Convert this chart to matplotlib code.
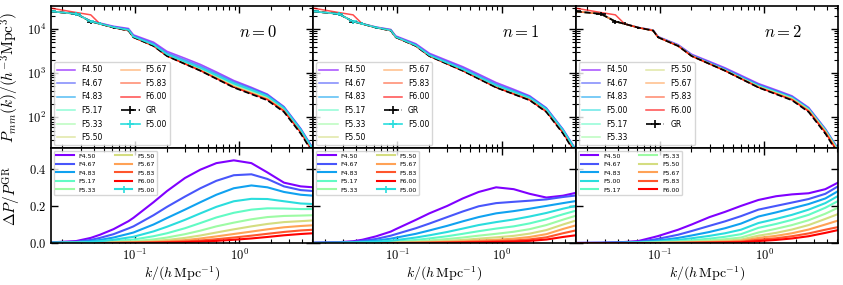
import matplotlib
matplotlib.use("Agg")
import matplotlib.pyplot as plt
import numpy as np

plt.rcParams['font.family'] = 'serif'
plt.rcParams['font.serif'] = ['cmr10']
plt.rcParams['mathtext.fontset'] = 'cm'
plt.rcParams['axes.formatter.use_mathtext'] = True
plt.rcParams['axes.unicode_minus'] = True
plt.rcParams['axes.linewidth'] = 1.2

# ---- data ----
models = ['F4.50', 'F4.67', 'F4.83', 'F5.00', 'F5.17',
          'F5.33', 'F5.50', 'F5.67', 'F5.83', 'F6.00']
panel_n = [0, 1, 2]

k = [0.0156, 0.0272, 0.0375, 0.046, 0.062, 0.0863, 0.0963, 0.15, 0.202,
     0.3, 0.422, 0.6, 0.882, 1.3, 1.85, 2.67, 3.86, 5.1]

pk_gr = [24800, 21900, 14700, 13000, 10700, 9160, 6460, 4110, 2430,
         1610, 1130, 745, 472, 334, 243, 132, 43, 15]
pk_gr_err = [3000, 2500, 1500, 1000, 600, 400, 300, 100, 40,
             20, 10, 5, 3, 2, 1, 0.6, 0.3, 0.2]
k_err = [0.002, 0.003, 0.003, 0, 0, 0, 0, 0, 0, 0, 0, 0, 0, 0, 0, 0, 0, 0]

# F6.00 run deviates from GR on the first three bins
pk_f600_lowk = [29500, 23500, 20800]

ratio_n0 = [
    [0.004, 0.011, 0.028, 0.045, 0.075, 0.118, 0.136, 0.22, 0.28, 0.35, 0.395, 0.43, 0.445, 0.43, 0.38, 0.325, 0.305, 0.30],
    [0.003, 0.007, 0.017, 0.028, 0.048, 0.079, 0.09, 0.15, 0.195, 0.25, 0.295, 0.335, 0.365, 0.37, 0.345, 0.305, 0.285, 0.28],
    [0.002, 0.005, 0.01, 0.017, 0.03, 0.05, 0.057, 0.10, 0.135, 0.18, 0.22, 0.26, 0.295, 0.31, 0.3, 0.275, 0.26, 0.255],
    [0.0015, 0.003, 0.006, 0.01, 0.018, 0.03, 0.034, 0.063, 0.088, 0.125, 0.16, 0.195, 0.225, 0.238, 0.237, 0.225, 0.213, 0.21],
    [0.001, 0.002, 0.0035, 0.0055, 0.01, 0.017, 0.019, 0.037, 0.053, 0.08, 0.108, 0.138, 0.163, 0.18, 0.187, 0.186, 0.183, 0.183],
    [0.0008, 0.0015, 0.002, 0.003, 0.005, 0.009, 0.01, 0.02, 0.03, 0.048, 0.067, 0.09, 0.11, 0.128, 0.14, 0.146, 0.148, 0.15],
    [0.0005, 0.001, 0.0013, 0.0018, 0.003, 0.005, 0.0055, 0.011, 0.017, 0.028, 0.041, 0.057, 0.074, 0.09, 0.103, 0.113, 0.118, 0.122],
    [0.0003, 0.0006, 0.0008, 0.001, 0.0018, 0.003, 0.0033, 0.006, 0.0095, 0.016, 0.025, 0.036, 0.049, 0.062, 0.074, 0.085, 0.092, 0.096],
    [0.0002, 0.0004, 0.0005, 0.0007, 0.001, 0.0017, 0.002, 0.0035, 0.0055, 0.009, 0.014, 0.021, 0.03, 0.04, 0.05, 0.06, 0.068, 0.072],
    [0.0001, 0.0002, 0.0003, 0.0004, 0.0006, 0.001, 0.0011, 0.002, 0.003, 0.005, 0.008, 0.012, 0.018, 0.025, 0.033, 0.042, 0.049, 0.053],
]

ratio_n1 = [
    [0.002, 0.005, 0.01, 0.018, 0.036, 0.062, 0.075, 0.125, 0.16, 0.2, 0.24, 0.275, 0.3, 0.29, 0.265, 0.245, 0.255, 0.27],
    [0.0015, 0.0035, 0.007, 0.012, 0.022, 0.04, 0.048, 0.08, 0.105, 0.14, 0.17, 0.198, 0.215, 0.222, 0.228, 0.235, 0.248, 0.256],
    [0.001, 0.002, 0.004, 0.007, 0.013, 0.024, 0.029, 0.05, 0.068, 0.093, 0.117, 0.14, 0.16, 0.172, 0.185, 0.2, 0.215, 0.226],
    [0.0008, 0.0015, 0.0025, 0.004, 0.007, 0.013, 0.016, 0.03, 0.042, 0.06, 0.078, 0.097, 0.113, 0.127, 0.143, 0.162, 0.185, 0.2],
    [0.0005, 0.001, 0.0015, 0.002, 0.004, 0.007, 0.008, 0.017, 0.025, 0.037, 0.05, 0.064, 0.078, 0.09, 0.106, 0.128, 0.155, 0.174],
    [0.0003, 0.0006, 0.0008, 0.001, 0.002, 0.0035, 0.004, 0.009, 0.014, 0.022, 0.03, 0.04, 0.05, 0.061, 0.075, 0.097, 0.126, 0.147],
    [0.0002, 0.0004, 0.0005, 0.0006, 0.001, 0.0018, 0.002, 0.0045, 0.007, 0.012, 0.017, 0.024, 0.031, 0.039, 0.051, 0.07, 0.1, 0.121],
    [0.0001, 0.0002, 0.0003, 0.0004, 0.0006, 0.001, 0.0011, 0.0023, 0.0037, 0.0065, 0.0095, 0.014, 0.018, 0.024, 0.033, 0.048, 0.076, 0.095],
    [0.0001, 0.0001, 0.0002, 0.0002, 0.0003, 0.0005, 0.0006, 0.0012, 0.002, 0.0035, 0.0055, 0.008, 0.011, 0.014, 0.02, 0.031, 0.053, 0.068],
    [0.0, 0.0001, 0.0001, 0.0001, 0.0002, 0.0003, 0.0004, 0.0007, 0.0011, 0.002, 0.003, 0.0045, 0.006, 0.008, 0.012, 0.019, 0.033, 0.042],
]

ratio_n2 = [
    [0.001, 0.002, 0.004, 0.006, 0.011, 0.031, 0.038, 0.072, 0.1, 0.14, 0.168, 0.2, 0.232, 0.252, 0.262, 0.268, 0.29, 0.325],
    [0.0007, 0.0014, 0.0027, 0.004, 0.007, 0.018, 0.023, 0.045, 0.065, 0.093, 0.117, 0.145, 0.18, 0.2, 0.218, 0.237, 0.265, 0.305],
    [0.0005, 0.001, 0.0017, 0.0025, 0.0045, 0.011, 0.014, 0.028, 0.041, 0.06, 0.08, 0.105, 0.143, 0.165, 0.187, 0.21, 0.24, 0.279],
    [0.0003, 0.0006, 0.001, 0.0015, 0.0027, 0.0065, 0.0085, 0.017, 0.026, 0.039, 0.053, 0.072, 0.108, 0.13, 0.152, 0.18, 0.215, 0.253],
    [0.0002, 0.0004, 0.0006, 0.0009, 0.0016, 0.0037, 0.0048, 0.01, 0.015, 0.024, 0.034, 0.048, 0.082, 0.103, 0.125, 0.152, 0.19, 0.226],
    [0.0001, 0.0002, 0.0004, 0.0005, 0.0009, 0.0022, 0.0028, 0.006, 0.009, 0.015, 0.021, 0.03, 0.057, 0.077, 0.097, 0.123, 0.158, 0.19],
    [0.0001, 0.0002, 0.0002, 0.0003, 0.0005, 0.0012, 0.0016, 0.0035, 0.0055, 0.009, 0.013, 0.019, 0.04, 0.055, 0.073, 0.097, 0.13, 0.156],
    [0.0, 0.0001, 0.0001, 0.0002, 0.0003, 0.0007, 0.0009, 0.002, 0.0033, 0.0055, 0.008, 0.012, 0.028, 0.039, 0.053, 0.073, 0.1, 0.121],
    [0.0, 0.0, 0.0001, 0.0001, 0.0002, 0.0004, 0.0005, 0.0012, 0.002, 0.0033, 0.005, 0.0075, 0.018, 0.026, 0.037, 0.052, 0.072, 0.086],
    [0.0, 0.0, 0.0, 0.0001, 0.0001, 0.0002, 0.0003, 0.0007, 0.0011, 0.002, 0.003, 0.0045, 0.011, 0.017, 0.025, 0.037, 0.055, 0.07],
]
ratio_err = [0.003, 0.002, 0.002, 0.001, 0.001, 0, 0, 0, 0, 0, 0, 0, 0, 0, 0, 0, 0, 0]

ratios = [ratio_n0, ratio_n1, ratio_n2]

# ---- plot ----
k = np.array(k)
pk_gr = np.array(pk_gr)
colors = plt.cm.rainbow(np.linspace(0, 1, len(models)))

fig, axes = plt.subplots(2, 3, figsize=(8.43, 2.85), dpi=100, sharex=True, sharey='row',
                         gridspec_kw=dict(height_ratios=[1.5, 1], hspace=0, wspace=0))
fig.subplots_adjust(left=0.0605, right=0.994, top=0.979, bottom=0.147)

for j, n in enumerate(panel_n):
    ax_top = axes[0, j]
    ax_bot = axes[1, j]
    special = (n != 2)  # F5.00 drawn as the reference run with error bars
    for i, m in enumerate(models):
        r = np.array(ratios[j][i])
        pk = pk_gr * (1 + r)
        if m == 'F6.00':
            pk[:3] = pk_f600_lowk
        if special and m == 'F5.00':
            continue
        ax_top.plot(k, pk, color=colors[i], lw=1.1, alpha=0.7, label=m)
        ax_bot.plot(k, r, color=colors[i], lw=1.5, label=m)
    ax_top.errorbar(k, pk_gr, yerr=pk_gr_err, xerr=k_err, color='k', ls='--',
                    lw=1.2, elinewidth=1.2, label='GR')
    if special:
        i5 = models.index('F5.00')
        r5 = np.array(ratios[j][i5])
        ax_top.errorbar(k, pk_gr * (1 + r5), yerr=pk_gr_err, xerr=k_err,
                        color=colors[i5], lw=1.2, elinewidth=1.2, label='F5.00')
        ax_bot.errorbar(k, r5, yerr=ratio_err, xerr=k_err, color=colors[i5],
                        lw=1.5, elinewidth=1.2, label='F5.00')

    ax_top.legend(loc='lower left', ncol=2, prop={'family': 'DejaVu Sans', 'size': 5.5},
                  handlelength=2.4, columnspacing=2.4, labelspacing=0.6,
                  borderaxespad=0.4)
    ax_bot.legend(loc='upper left', ncol=2, prop={'family': 'DejaVu Sans', 'size': 4.5},
                  handlelength=2.8, columnspacing=3.0, labelspacing=0.5,
                  borderaxespad=0.4)
    ax_top.text(0.79, 0.82, r'$n=%d$' % n, transform=ax_top.transAxes,
                ha='center', va='center', fontsize=12)
    ax_bot.set_xlabel(r'$k/(h\,{\rm Mpc}^{-1})$', fontsize=10, labelpad=1)

    for ax in (ax_top, ax_bot):
        ax.set_xscale('log')
        ax.tick_params(which='both', direction='in', top=True, right=True, labelsize=9)
        ax.tick_params(which='major', length=5, width=1.0)
        ax.tick_params(which='minor', length=3, width=0.8)

axes[0, 0].set_yscale('log')
axes[0, 0].set_ylim(20, 3.3e4)
axes[1, 0].set_ylim(0, 0.51)
axes[1, 0].set_yticks([0.0, 0.2, 0.4])
axes[0, 0].set_xlim(0.0156, 5.1)
axes[0, 0].set_ylabel(r'$P_{mm}(k)/(h^{-3}{\rm Mpc}^3)$', fontsize=11)
axes[1, 0].set_ylabel(r'$\Delta P/P^{\rm GR}$', fontsize=11)

plt.savefig('out.png', dpi=100)
plt.close()
